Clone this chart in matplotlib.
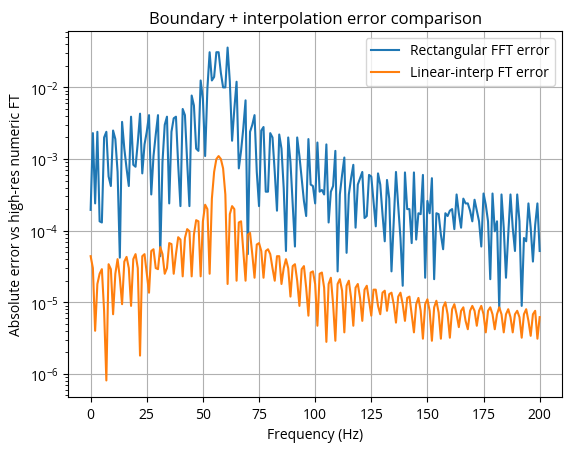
import numpy as np
import matplotlib
matplotlib.use("Agg")
import matplotlib.pyplot as plt

plt.rcParams['font.family'] = ['Open Sans', 'DejaVu Sans']
plt.rcParams['mathtext.fontset'] = 'custom'
plt.rcParams['mathtext.rm'] = 'Open Sans'
plt.rcParams['mathtext.it'] = 'Open Sans:italic'
plt.rcParams['mathtext.bf'] = 'Open Sans:bold'

# frequency grid, 1 Hz steps
freqs = np.arange(0, 201)

# |error| of the plain rectangular FFT against the high-res reference
rect_err = [
    1.95e-4, 2.3e-3, 2.4e-4, 2.4e-3, 1.35e-4, 1.3e-4, 2.0e-3, 2.4e-3, 5.7e-4, 4.2e-4,
    2.5e-3, 1.9e-3, 6.6e-4, 4.2e-5, 3.3e-3, 1.4e-3, 7.4e-4, 4.2e-4, 3.9e-3, 8.3e-4,
    7.8e-4, 1.7e-3, 4.3e-3, 6.3e-4, 1.6e-3, 2.4e-3, 4.1e-3, 3.2e-4, 1.1e-3, 2.2e-3,
    4.1e-3, 4.4e-5, 9.1e-4, 3.0e-3, 3.9e-3, 2.4e-4, 2.4e-3, 3.7e-3, 3.9e-3, 8.3e-4,
    2.2e-4, 5.0e-3, 4.1e-3, 9.1e-4, 2.2e-4, 7.7e-3, 5.6e-3, 1.4e-3, 1.3e-3, 1.25e-2,
    6.9e-3, 1.1e-3, 9.6e-3, 3.1e-2, 1.25e-2, 1.4e-2, 3.1e-2, 3.1e-2, 1.6e-2, 1.0e-2,
    1.0e-2, 3.6e-2, 1.2e-2, 1.8e-3, 5.0e-3, 1.2e-2, 7.4e-4, 1.3e-3, 2.7e-3, 6.6e-3,
    4.7e-5, 2.4e-3, 3.0e-3, 4.1e-3, 6.6e-4, 2.2e-4, 2.5e-3, 2.8e-3, 3.5e-4, 3.5e-4,
    2.3e-3, 2.0e-3, 6.6e-4, 1.9e-4, 2.2e-3, 1.4e-3, 3.9e-4, 5.2e-5, 2.0e-3, 9.1e-4,
    2.3e-4, 6.0e-5, 2.0e-3, 1.1e-3, 5.4e-4, 2.6e-4, 1.6e-4, 1.9e-3, 4.4e-4, 4.2e-4,
    2.4e-4, 1.7e-3, 3.5e-4, 3.7e-4, 3.2e-4, 1.6e-3, 1.3e-4, 3.5e-4, 4.2e-4, 1.3e-3,
    2.7e-5, 3.2e-4, 6.0e-4, 1.05e-3, 4.9e-5, 3.2e-4, 5.4e-4, 8.3e-4, 1.1e-4, 4.4e-4,
    5.4e-4, 6.6e-4, 1.5e-4, 1.6e-4, 6.0e-4, 5.7e-4, 2.6e-4, 1.15e-4, 6.3e-4, 4.4e-4,
    1.7e-4, 7.1e-5, 5.1e-4, 2.8e-4, 2.7e-5, 1.35e-4, 6.6e-4, 2.2e-4, 7.9e-5, 1.7e-5,
    6.5e-4, 2.0e-4, 2.0e-4, 6.7e-5, 6.5e-4, 7.5e-5, 1.75e-4, 1.7e-4, 6.0e-4, 2.2e-5,
    2.6e-4, 1.75e-4, 5.4e-4, 2.1e-5, 1.75e-4, 1.7e-4, 8.8e-5, 5.5e-5, 1.75e-4, 1.6e-4,
    1.9e-4, 2.0e-4, 1.05e-4, 3.2e-4, 1.75e-4, 1.1e-4, 2.8e-4, 2.4e-4, 2.4e-4, 1.9e-4,
    1.35e-4, 2.7e-4, 1.9e-4, 1.35e-4, 6.0e-5, 3.3e-4, 2.3e-4, 1.35e-4, 2.1e-5, 3.3e-4,
    9.8e-5, 1.35e-4, 8.0e-6, 3.2e-4, 1.1e-4, 2.2e-5, 8.8e-5, 3.2e-4, 1.1e-4, 5.2e-5,
    3.2e-4, 1.35e-4, 8.9e-6, 7.9e-5, 7.1e-5, 2.4e-4, 1.1e-4, 3.7e-5, 1.2e-4, 2.4e-4,
    5.2e-5,
]

# |error| of the linear-interpolation FT
interp_err = [
    4.4e-5, 3.0e-5, 4.0e-6, 1.8e-5, 2.5e-5, 2.9e-5, 7.6e-6, 8.1e-7, 3.4e-5, 2.9e-5,
    6.8e-6, 2.5e-5, 4.0e-5, 2.2e-5, 9.4e-6, 3.7e-5, 4.3e-5, 3.0e-5, 8.9e-6, 4.0e-5,
    4.7e-5, 3.0e-5, 1.8e-6, 4.4e-5, 4.7e-5, 2.5e-5, 1.36e-5, 5.2e-5, 5.5e-5, 3.0e-5,
    2.9e-5, 5.9e-5, 4.7e-5, 2.5e-5, 3.0e-5, 6.7e-5, 6.5e-5, 2.5e-5, 4.7e-5, 8.1e-5,
    7.5e-5, 2.3e-5, 7.9e-5, 1.05e-4, 9.8e-5, 2.3e-5, 8.8e-5, 1.4e-4, 1.35e-4, 2.3e-5,
    1.35e-4, 2.3e-4, 2.0e-4, 2.5e-5, 2.8e-4, 6.6e-4, 1.0e-3, 1.1e-3, 1.0e-3, 7.4e-4,
    3.2e-4, 1.8e-5, 1.7e-4, 2.2e-4, 2.0e-4, 2.0e-5, 1.3e-4, 1.35e-4, 5.2e-5, 2.0e-5,
    8.8e-5, 9.3e-5, 4.7e-5, 2.2e-5, 6.4e-5, 6.7e-5, 5.2e-5, 2.2e-5, 5.2e-5, 5.5e-5,
    4.7e-5, 3.0e-5, 2.0e-5, 4.4e-5, 4.4e-5, 1.8e-5, 3.0e-5, 4.0e-5, 3.0e-5, 1.2e-5,
    3.2e-5, 3.4e-5, 2.0e-5, 8.9e-6, 2.9e-5, 3.2e-5, 1.6e-5, 6.5e-6, 2.6e-5, 2.7e-5,
    1.8e-5, 4.7e-6, 2.5e-5, 2.6e-5, 1.6e-5, 2.8e-6, 1.8e-5, 2.2e-5, 9.4e-6, 2.9e-6,
    1.8e-5, 2.1e-5, 1.45e-5, 3.8e-6, 1.7e-5, 2.0e-5, 1.15e-5, 4.7e-6, 1.6e-5, 1.8e-5,
    1.15e-5, 5.5e-6, 1.5e-5, 1.7e-5, 1.05e-5, 6.5e-6, 1.5e-5, 1.5e-5, 8.9e-6, 6.8e-6,
    1.36e-5, 1.45e-5, 7.6e-6, 1.3e-5, 1.36e-5, 9.4e-6, 5.2e-6, 1.2e-5, 1.36e-5, 9.4e-6,
    5.5e-6, 1.15e-5, 1.2e-5, 6.8e-6, 3.8e-6, 9.4e-6, 1.15e-5, 7.6e-6, 3.1e-6, 9.4e-6,
    1.1e-5, 7.6e-6, 2.9e-6, 8.5e-6, 1.05e-5, 7.2e-6, 3.1e-6, 8.5e-6, 1.0e-5, 6.8e-6,
    3.2e-6, 8.0e-6, 9.4e-6, 6.8e-6, 4.5e-6, 7.6e-6, 8.5e-6, 5.5e-6, 4.2e-6, 7.6e-6,
    8.9e-6, 7.6e-6, 4.7e-6, 7.6e-6, 8.9e-6, 6.8e-6, 3.8e-6, 7.6e-6, 8.5e-6, 6.8e-6,
    4.2e-6, 6.8e-6, 8.5e-6, 6.8e-6, 3.8e-6, 6.8e-6, 8.0e-6, 6.2e-6, 3.8e-6, 6.8e-6,
    7.6e-6, 6.2e-6, 3.2e-6, 6.8e-6, 8.0e-6, 5.5e-6, 3.4e-6, 6.8e-6, 7.6e-6, 3.1e-6,
    6.2e-6,
]

fig = plt.figure(figsize=(5.73, 4.56), dpi=100)
fig.subplots_adjust(left=0.119, right=0.981, top=0.93, bottom=0.127)

plt.semilogy(freqs, rect_err, label="Rectangular FFT error")
plt.semilogy(freqs, interp_err, label="Linear-interp FT error")
plt.xlabel("Frequency (Hz)")
plt.ylabel("Absolute error vs high-res numeric FT")
plt.title("Boundary + interpolation error comparison")
plt.grid(True)
plt.legend()

plt.savefig("out.png", dpi=100)
